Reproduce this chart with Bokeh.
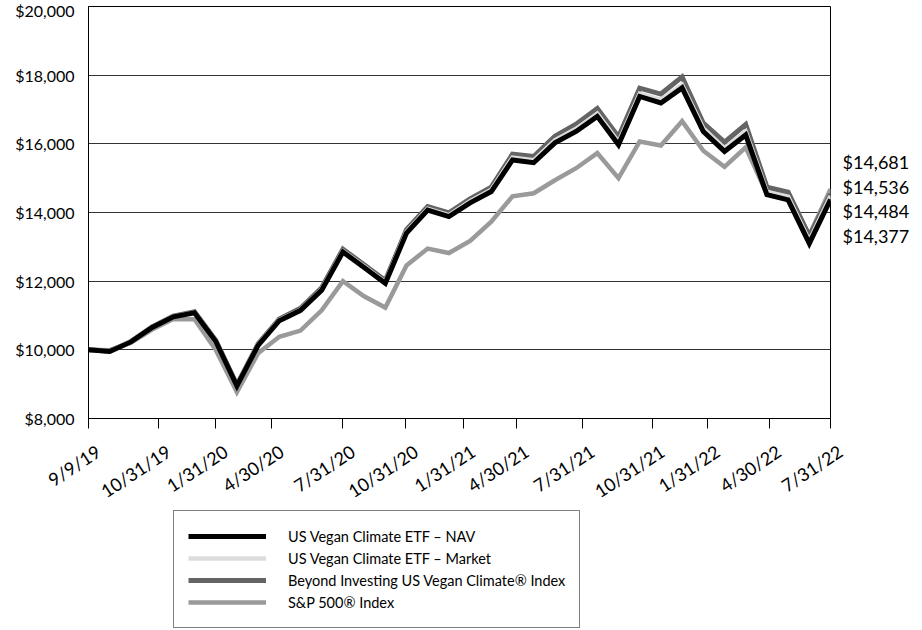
import numpy as np
from bokeh.plotting import figure
from bokeh.layouts import column
from bokeh.core.properties import value
from bokeh.models import (ColumnDataSource, FixedTicker, NumeralTickFormatter,
                          Legend, LegendItem, LinearAxis, Range1d)
from bokeh.embed import file_html
from bokeh.resources import INLINE

# ---------------- data ----------------
dates = ["9/9/19", "9/30/19", "10/31/19", "11/30/19", "12/31/19",
         "1/31/20", "2/29/20", "3/31/20", "4/30/20", "5/31/20", "6/30/20",
         "7/31/20", "8/31/20", "9/30/20", "10/31/20", "11/30/20", "12/31/20",
         "1/31/21", "2/28/21", "3/31/21", "4/30/21", "5/31/21", "6/30/21",
         "7/31/21", "8/31/21", "9/30/21", "10/31/21", "11/30/21", "12/31/21",
         "1/31/22", "2/28/22", "3/31/22", "4/30/22", "5/31/22", "6/30/22",
         "7/31/22"]

nav = [10000, 9950, 10230, 10650, 10960, 11080, 10250, 8950, 10130, 10850,
       11150, 11740, 12850, 12400, 11940, 13400, 14070, 13880, 14280, 14610,
       15530, 15450, 16030, 16360, 16800, 15970, 17380, 17190, 17630, 16360,
       15780, 16260, 14520, 14370, 13100, 14377]

market = [10000, 9960, 10240, 10660, 10970, 11090, 10260, 8960, 10150, 10870,
          11170, 11760, 12880, 12430, 11970, 13440, 14110, 13920, 14330, 14660,
          15600, 15520, 16100, 16440, 16880, 16050, 17460, 17280, 17720, 16450,
          15870, 16360, 14600, 14460, 13180, 14484]

index_vals = [10000, 9960, 10240, 10670, 10980, 11110, 10280, 8980, 10170, 10900,
              11210, 11810, 12930, 12480, 12020, 13500, 14170, 13990, 14400, 14740,
              15700, 15630, 16220, 16570, 17030, 16200, 17620, 17450, 17950, 16600,
              16050, 16560, 14740, 14590, 13310, 14536]

sp500 = [10000, 9990, 10210, 10590, 10900, 10890, 10000, 8770, 9900, 10380,
         10560, 11150, 12000, 11560, 11230, 12460, 12950, 12820, 13170, 13730,
         14470, 14560, 14940, 15290, 15730, 15000, 16070, 15950, 16660, 15800,
         15330, 15900, 14540, 14570, 13340, 14681]

series_names = ["US Vegan Climate ETF \u2013 NAV",
                "US Vegan Climate ETF \u2013 Market",
                "Beyond Investing US Vegan Climate\u00ae Index",
                "S&P 500\u00ae Index"]

tick_labels = ["9/9/19", "10/31/19", "1/31/20", "4/30/20", "7/31/20",
               "10/31/20", "1/31/21", "4/30/21", "7/31/21", "10/31/21",
               "1/31/22", "4/30/22", "7/31/22"]
tick_pos = [0, 3.31, 6.0, 8.64, 12.0, 14.97, 17.67, 20.2, 23.3, 26.6, 29.2, 32.1, 35]

y_ticks = [8000, 10000, 12000, 14000, 16000, 18000, 20000]

# ---------------- layout constants ----------------
FONT = "Lato"
W = 920
H_MAIN = 430
H_BOT = 199
FRAME_L, FRAME_R, FRAME_T, FRAME_B = 88, 830, 6, 418
frame_h = FRAME_B - FRAME_T
n_pts = len(dates)
px_per_x = (FRAME_R - FRAME_L) / (n_pts - 1)
dollars_per_px = (y_ticks[-1] - y_ticks[0]) / frame_h

src = ColumnDataSource(dict(x=list(range(n_pts)), nav=nav, market=market,
                            idx=index_vals, sp=sp500))

p = figure(width=W, height=H_MAIN, output_backend="svg", toolbar_location=None,
           x_range=Range1d(0, n_pts - 1), y_range=Range1d(y_ticks[0], y_ticks[-1]),
           min_border_left=FRAME_L, min_border_right=W - FRAME_R,
           min_border_top=FRAME_T, min_border_bottom=H_MAIN - FRAME_B)
p.background_fill_color = "white"
p.border_fill_color = "white"
p.outline_line_color = "black"
p.outline_line_width = 1

p.xgrid.visible = False
p.ygrid.grid_line_color = "#333333"
p.ygrid.grid_line_width = 1

p.yaxis.ticker = FixedTicker(ticks=y_ticks)
p.yaxis.formatter = NumeralTickFormatter(format="$0,0")
p.yaxis.major_tick_out = 0
p.yaxis.major_tick_in = 0
p.yaxis.minor_tick_line_color = None
p.yaxis.axis_line_color = "black"
p.yaxis.major_label_standoff = 14
p.yaxis.major_label_text_font = FONT
p.yaxis.major_label_text_font_size = "16px"
p.yaxis.major_label_text_color = "black"

# x axis: tick marks only (labels drawn in the lower panel)
p.xaxis.ticker = FixedTicker(ticks=tick_pos)
p.xaxis.major_label_overrides = {t: "" for t in tick_pos}
p.xaxis.major_tick_out = 10
p.xaxis.major_tick_in = 0
p.xaxis.major_tick_line_color = "black"
p.xaxis.minor_tick_line_color = None
p.xaxis.axis_line_color = "black"
p.xaxis.major_label_standoff = 0

r_sp = p.line("x", "sp", source=src, line_color="#9a9a9a", line_width=4.5, line_join="miter")
r_idx = p.line("x", "idx", source=src, line_color="#646464", line_width=5, line_join="miter")
r_mkt = p.line("x", "market", source=src, line_color="#dcdcdc", line_width=4.5, line_join="miter")
r_nav = p.line("x", "nav", source=src, line_color="black", line_width=5, line_join="miter")

# end-value labels as a right-hand axis
end_vals = sorted([nav[-1], market[-1], index_vals[-1], sp500[-1]], reverse=True)
mean_end = float(np.mean(end_vals))
n = len(end_vals)
spacing_px = 24.5
center_shift_px = -4.5
end_pos = [mean_end + (((n - 1) / 2 - i) * spacing_px + center_shift_px) * dollars_per_px
           for i in range(n)]
rax = LinearAxis(ticker=FixedTicker(ticks=end_pos),
                 major_label_overrides={t: f"${v:,}" for t, v in zip(end_pos, end_vals)},
                 major_tick_out=0, major_tick_in=0, axis_line_color=None,
                 minor_tick_line_color=None, major_tick_line_color=None,
                 major_label_standoff=12, major_label_text_font=FONT,
                 major_label_text_font_size="18px", major_label_text_color="black")
p.add_layout(rax, "right")

# ---------------- lower panel: slanted date labels + legend ----------------
bot = figure(width=W, height=H_BOT, output_backend="svg", toolbar_location=None,
             x_range=Range1d(-FRAME_L / px_per_x, (n_pts - 1) + (W - FRAME_R) / px_per_x),
             y_range=Range1d(-1, 0), x_axis_type=None, y_axis_type=None,
             min_border_left=0, min_border_right=0, min_border_top=0, min_border_bottom=0)
try:
    bot.frame_align = False
except Exception:
    pass
bot.outline_line_color = None
bot.grid.visible = False
bot.background_fill_color = "white"
bot.border_fill_color = "white"

lab_src = ColumnDataSource(dict(x=tick_pos, y=[0] * len(tick_pos), text=tick_labels))
bot.text("x", "y", text="text", source=lab_src, angle=0.58,
         text_align="right", text_baseline="middle", x_offset=10, y_offset=19,
         text_font=value(FONT), text_font_size="18px", text_color="black")

# legend glyphs come from the same series (kept outside the visible range)
l_nav = bot.line("x", "nav", source=src, line_color="black", line_width=5)
l_mkt = bot.line("x", "market", source=src, line_color="#dcdcdc", line_width=4.5)
l_idx = bot.line("x", "idx", source=src, line_color="#646464", line_width=5)
l_sp = bot.line("x", "sp", source=src, line_color="#9a9a9a", line_width=4.5)

legend = Legend(items=[LegendItem(label=series_names[0], renderers=[l_nav]),
                       LegendItem(label=series_names[1], renderers=[l_mkt]),
                       LegendItem(label=series_names[2], renderers=[l_idx]),
                       LegendItem(label=series_names[3], renderers=[l_sp])],
                location=(173, 1), orientation="vertical")
legend.border_line_color = "black"
legend.border_line_width = 1
legend.background_fill_color = "white"
legend.background_fill_alpha = 1
legend.padding = 14
legend.spacing = 0
legend.margin = 0
legend.label_height = 22
legend.glyph_height = 22
legend.glyph_width = 78
legend.label_standoff = 22
legend.label_text_font = FONT
legend.label_text_font_size = "14.5px"
legend.label_text_color = "black"
bot.add_layout(legend)

layout = column(p, bot, spacing=0)
open("out.html", "w").write(file_html(layout, INLINE))
